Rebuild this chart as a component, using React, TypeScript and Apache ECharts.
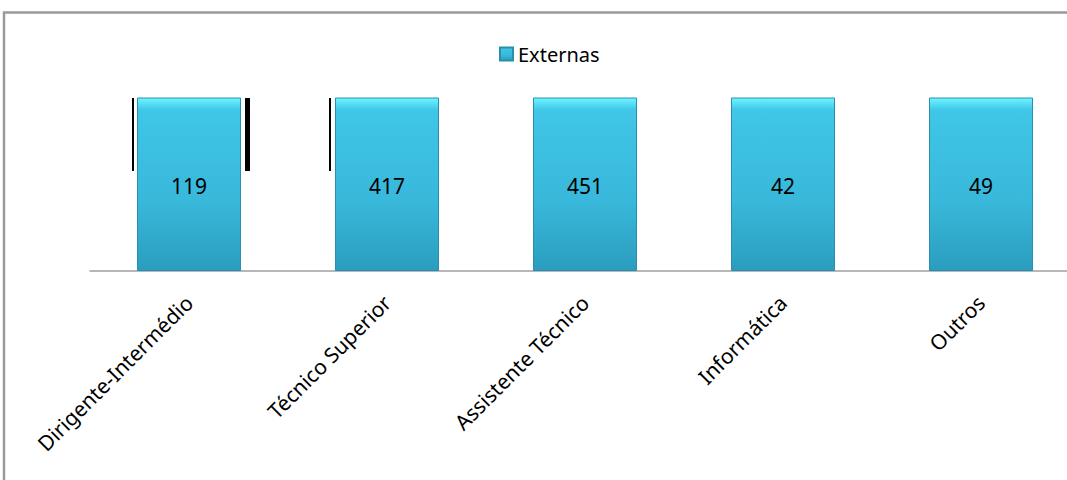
import React, { useEffect, useRef } from "react";
import * as echarts from "echarts";

const categories = [
  "Dirigente-Intermédio",
  "Técnico Superior",
  "Assistente Técnico",
  "Informática",
  "Outros",
];
const seriesName = "Externas";
const externas = [119, 417, 451, 42, 49];

export default function App() {
  const ref = useRef<HTMLDivElement>(null);
  useEffect(() => {
    document.body.style.margin = "0";
    const chart = echarts.init(ref.current!, null, { renderer: "svg" });
    const font = "'Noto Sans', 'Open Sans', sans-serif";
    chart.setOption({
      animation: false,
      backgroundColor: "#ffffff",
      legend: {
        data: [seriesName],
        left: 494,
        top: 39,
        icon: "rect",
        itemWidth: 13,
        itemHeight: 13,
        itemGap: 6,
        textStyle: { fontFamily: font, fontSize: 20, color: "#000" },
      },
      grid: {
        left: 90,
        top: 98,
        width: 990,
        bottom: 209,
        containLabel: false,
        outerBoundsMode: "none",
      },
      xAxis: {
        type: "category",
        data: categories,
        axisLine: { lineStyle: { color: "#a0a0a0", width: 1.5 } },
        axisTick: { show: false },
        axisLabel: {
          rotate: 45,
          margin: 28,
          interval: 0,
          fontFamily: font,
          fontSize: 21,
          color: "#000",
        },
      },
      yAxis: {
        type: "value",
        min: 0,
        max: 40,
        show: false,
        splitLine: { show: false },
      },
      series: [
        {
          name: seriesName,
          type: "bar",
          data: externas,
          barWidth: 104,
          clip: true,
          itemStyle: {
            borderColor: "#2a8fae",
            borderWidth: 1,
            color: new echarts.graphic.LinearGradient(0, 0, 0, 1, [
              { offset: 0, color: "#6ef4ff" },
              { offset: 0.07, color: "#40c6e8" },
              { offset: 0.6, color: "#38b8da" },
              { offset: 1, color: "#2b9dbf" },
            ]),
          },
          label: {
            show: true,
            position: "inside",
            offset: [0, 2],
            fontFamily: font,
            fontSize: 21,
            color: "#000",
          },
        },
      ],
      graphic: [
        {
          type: "rect",
          shape: { x: 4, y: 12.5, width: 1100, height: 500 },
          style: { fill: "none", stroke: "#9a9a9a", lineWidth: 2.5 },
          silent: true,
        },
        { type: "rect", shape: { x: 132, y: 98, width: 2, height: 73 }, style: { fill: "#000" } },
        { type: "rect", shape: { x: 245, y: 98, width: 5, height: 73 }, style: { fill: "#000" } },
        { type: "rect", shape: { x: 329, y: 98, width: 2, height: 73 }, style: { fill: "#000" } },
      ],
    });
    return () => chart.dispose();
  }, []);
  return <div ref={ref} style={{ width: 1067, height: 480 }} />;
}
